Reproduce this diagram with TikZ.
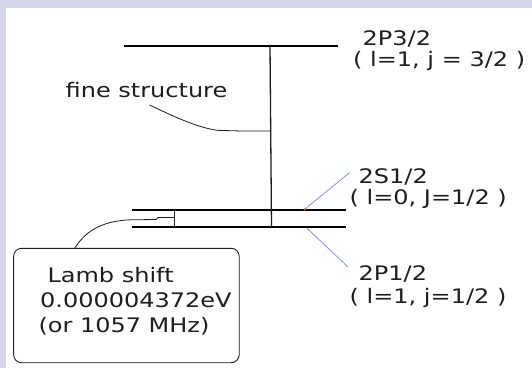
\documentclass[tikz,border=0pt]{standalone}
\usepackage{fontspec}
\newfontfamily\lblfont[FakeStretch=1.2]{DejaVu Sans}
\usetikzlibrary{positioning}
\definecolor{framebg}{RGB}{212,214,236}
\definecolor{linkblue}{RGB}{120,150,240}
\definecolor{inkgrey}{RGB}{30,30,30}
\definecolor{dotorange}{RGB}{230,110,40}

\begin{document}
\begin{tikzpicture}[
    x=1pt, y=-1pt,
    lvlline/.style={line width=2.4pt, black},
    link/.style={line width=1.3pt, inkgrey},
    thinlink/.style={line width=0.8pt, inkgrey},
    pointer/.style={line width=0.8pt, linkblue},
    lvltext/.style={font=\lblfont\fontsize{20}{21.5}\selectfont, text=inkgrey,
                    inner sep=0pt, anchor=base west, align=left},
    lambtext/.style={lvltext, font=\lblfont\fontsize{20}{25}\selectfont},
    lambbox/.style={draw=inkgrey, line width=0.9pt, rounded corners=8pt,
                    minimum width=225.6pt, minimum height=114.4pt, inner sep=0pt},
  ]

  \fill[framebg] (0,0) rectangle (532,368);
  \fill[white] (6,8) rectangle (532,368);
  \useasboundingbox (0,0) rectangle (532,368);

  % energy levels
  \coordinate (p32l) at (124,46);
  \coordinate (p32r) at (338,46);
  \coordinate (s12l) at (132,210);
  \coordinate (s12r) at (346,210);
  \coordinate (p12l) at (132,226.7);
  \coordinate (p12r) at (346,226.7);

  \draw[lvlline] (p32l) -- (p32r);
  \draw[lvlline] (s12l) -- (s12r);
  \draw[lvlline] (p12l) -- (p12r);

  % splittings
  \coordinate (fsTop)  at (270,46);
  \coordinate (fsBot)  at (271.5,226.7);
  \coordinate (fsJoin) at (270.5,131);
  \coordinate (lsTop)  at (174.3,210);
  \coordinate (lsBot)  at (174.3,226.7);
  \coordinate (lsJoin) at (174.3,217.5);

  \draw[link] (fsTop) -- (fsBot);
  \draw[link] (lsTop) -- (lsBot);

  % labels (anchored on the baseline of their last line)
  \node[lvltext] (fine)   at (65.5,97.7)  {fine structure};
  \node[lvltext] (p32txt) at (353,66.5)   {\hspace*{9.5pt}2P3/2\\( l=1, j = 3/2 )};
  \node[lvltext] (s12txt) at (349.5,204.5) {\hspace*{9pt}2S1/2\\( l=0, J=1/2 )};
  \node[lvltext] (p12txt) at (349.5,303)   {\hspace*{9pt}2P1/2\\[1.5pt]( l=1, j=1/2 )};

  \node[lambbox] (lamb) at (126.4,305.5) {};
  \node[lambtext] (lambtxt) at (38.3,332) {\hspace*{9pt}Lamb shift\\\hspace*{1.7pt}0.000004372eV\\(or 1057 MHz)};

  % connectors
  \coordinate (fineTail) at (149.5,105);
  \coordinate (lambTip)  at (74.7,248.3);
  \coordinate (s12dot)   at (304.7,209.3);
  \coordinate (s12tip)   at (349.5,172.7);
  \coordinate (p12foot)  at (307,228.3);
  \coordinate (p12tip)   at (347.8,266.7);

  \draw[thinlink] (fineTail) .. controls (175,117) and (196,127) .. (217,130.3)
                  -- (242,131) -- (fsJoin);
  \draw[thinlink] (lsJoin) -- (158,217.5) -- (156,219.5) -- (130,219.8)
                  .. controls (100,221) and (84,233) .. (lambTip);

  \draw[pointer] (s12dot) -- (s12tip);
  \draw[pointer] (p12foot) -- (p12tip);
  \fill[dotorange] (s12dot) circle (1.2pt);

\end{tikzpicture}
\end{document}
